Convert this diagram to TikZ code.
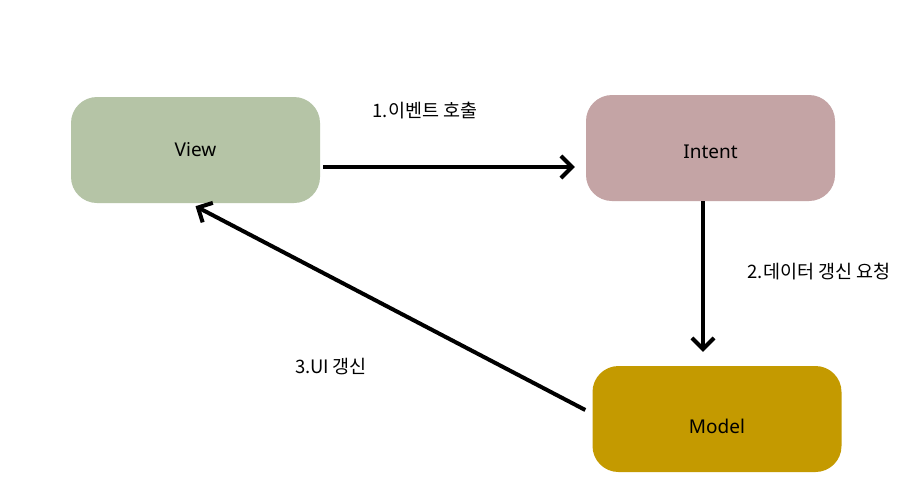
\documentclass[tikz,border=0pt]{standalone}
\usepackage{fontspec}
\setmainfont{Noto Sans}
\newfontfamily\kr{Noto Sans CJK KR}
\usetikzlibrary{arrows.meta}
\definecolor{viewgreen}{HTML}{B5C4A6}
\definecolor{intentrose}{HTML}{C4A4A5}
\definecolor{modelgold}{HTML}{C49A00}
\begin{document}
\begin{tikzpicture}[x=1pt,y=-1pt,
	block/.style={rounded corners=26pt,minimum width=249pt,minimum height=106pt,inner sep=0pt},
	blocktext/.style={font=\fontsize{19}{22}\selectfont,inner sep=0pt},
	flow/.style={line width=4pt,-{Straight Barb[length=11pt,width=22pt,line width=4pt]}},
	lbl/.style={font=\kr\fontsize{18.5}{22}\selectfont,inner sep=0pt}]

	\useasboundingbox[fill=white] (0,0) rectangle (915,485);

	\node[block,fill=viewgreen,label={[blocktext]center:View}] (view) at (195.5,150) {};
	\node[block,fill=intentrose,label={[blocktext,yshift=-4pt]center:Intent}] (intent) at (710.5,148) {};
	\node[block,fill=modelgold,label={[blocktext,yshift=-7pt]center:Model}] (model) at (717,419) {};

%	arrows between the blocks
	\draw[flow] ([shift={(3,17)}]view.east) -- ([shift={(-11,19)}]intent.west);
	\draw[flow] ([xshift=-7.5]intent.south) -- ([shift={(-14,-14)}]model.north);
	\draw[flow] ([shift={(-7,-9)}]model.west) -- ([yshift=-3]view.south);

	\node[lbl] (l1) at (425,111) {1.이벤트 호출};
	\node[lbl] (l2) at (819,272) {2.데이터 갱신 요청};
	\node[lbl] (l3) at (331,367) {3.UI 갱신};
\end{tikzpicture}
\end{document}
